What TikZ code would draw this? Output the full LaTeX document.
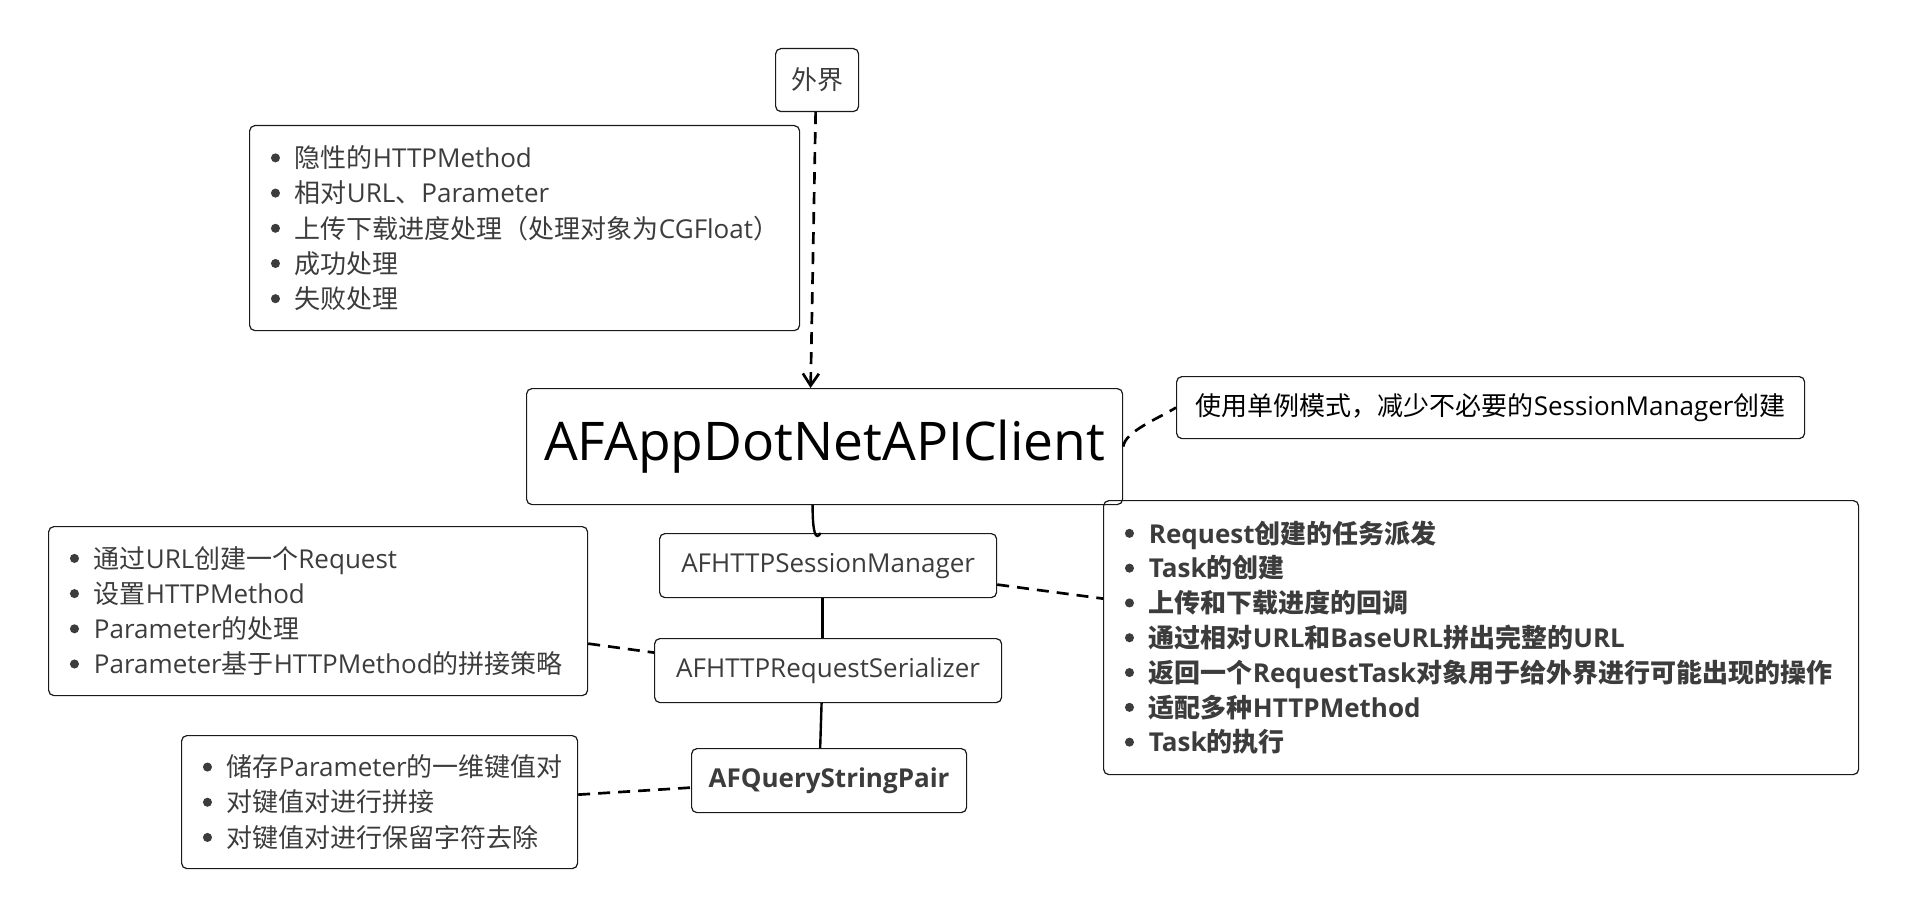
\documentclass[tikz,border=0pt]{standalone}
\usepackage{fontspec}
\setmainfont{Noto Sans CJK SC}
\newfontfamily\latf{Open Sans}
\usetikzlibrary{arrows.meta,calc}
\newcommand\la[1]{{\latf #1}}
\newcommand\bl{\makebox[18pt][l]{\tikz[baseline=0pt]\fill (3.8pt,7.3pt) circle (3.4pt);}}
\definecolor{txt}{HTML}{3C3C3C}
\definecolor{edge}{HTML}{1A1A1A}
\tikzset{
  box/.style={draw=edge, line width=0.9pt, rounded corners=4pt, anchor=north west,
    inner sep=0pt, font=\fontsize{19.5pt}{26.4pt}\selectfont, text=txt},
  listbox/.style={box, align=left, inner xsep=16pt},
  dashline/.style={draw=black, line width=2pt, dash pattern=on 9pt off 6pt},
  solidline/.style={draw=black, line width=1.8pt},
}
\begin{document}
\begin{tikzpicture}[x=0.75pt,y=-0.75pt]
\useasboundingbox (0,0) rectangle (1905,920);

\node[box, minimum width=62.25pt, minimum height=47.25pt] (waijie) at (775,48) {外界};

\node[listbox, text width=380.5pt, minimum height=153.75pt] (lt) at (249,125) {%
\bl 隐性的\la{HTTPMethod}\\
\bl 相对\la{URL}、\la{Parameter}\\
\bl 上传下载进度处理（处理对象为\la{CGFloat}）\\
\bl 成功处理\\
\bl 失败处理};

\node[box, minimum width=447pt, minimum height=87pt, text=black,
  font=\latf\fontsize{40pt}{48pt}\selectfont] (main) at (526,388) {AFAppDotNetAPIClient};

\node[box, minimum width=471pt, minimum height=46.5pt, text=black] (note) at (1176,376)
  {使用单例模式，减少不必要的\la{SessionManager}创建};

\node[listbox, text width=534.25pt, minimum height=205.5pt, font=\bfseries\fontsize{19.5pt}{26.1pt}\selectfont] (rb) at (1103,500) {%
\bl \la{Request}创建的任务派发\\
\bl \la{Task}的创建\\
\bl 上传和下载进度的回调\\
\bl 通过相对\la{URL}和\la{BaseURL}拼出完整的\la{URL}\\
\bl 返回一个\la{RequestTask}对象用于给外界进行可能出现的操作\\
\bl 适配多种\la{HTTPMethod}\\
\bl \la{Task}的执行};

\node[box, minimum width=252.75pt, minimum height=48pt, font=\latf\fontsize{19.5pt}{24pt}\selectfont] (sm) at (659,533) {AFHTTPSessionManager};

\node[box, minimum width=260.25pt, minimum height=48pt, font=\latf\fontsize{19.5pt}{24pt}\selectfont] (ser) at (654,638) {AFHTTPRequestSerializer};

\node[listbox, text width=372.25pt, minimum height=126.75pt] (lm) at (48,526) {%
\bl 通过\la{URL}创建一个\la{Request}\\
\bl 设置\la{HTTPMethod}\\
\bl \la{Parameter}的处理\\
\bl \la{Parameter}基于\la{HTTPMethod}的拼接策略};

\node[box, minimum width=206.25pt, minimum height=48pt, font=\latf\bfseries\fontsize{19.5pt}{24pt}\selectfont] (qsp) at (691,748) {AFQueryStringPair};

\node[listbox, text width=265pt, minimum height=99.75pt] (lb) at (181,735) {%
\bl 储存\la{Parameter}的一维键值对\\
\bl 对键值对进行拼接\\
\bl 对键值对进行保留字符去除};

% connectors
\draw[dashline, -{Straight Barb[length=9pt,width=12pt,line width=2pt]}]
  ([xshift=-1.1pt]waijie.south) -- ([xshift=-10.5pt]main.north);
\draw[solidline] ([xshift=-9pt]main.south) .. controls +(0,28) and +(-5,8) .. ([xshift=-5.6pt]sm.north);
\draw[solidline] ([xshift=-4.1pt]sm.south) -- ([xshift=-4.1pt]ser.north);
\draw[solidline] ([xshift=-4.9pt]ser.south) -- ([xshift=-6.7pt]qsp.north);
\draw[dashline] (main.east) .. controls +(2,-15) and +(-20,12) .. (note.west);
\draw[dashline] ([yshift=-14.25pt]sm.east) -- ([yshift=29.25pt]rb.west);
\draw[dashline] ([yshift=-24.4pt]lm.east) -- ([yshift=13.5pt]ser.west);
\draw[dashline] ([yshift=5.6pt]lb.east) -- ([yshift=-5.25pt]qsp.west);
\end{tikzpicture}
\end{document}
